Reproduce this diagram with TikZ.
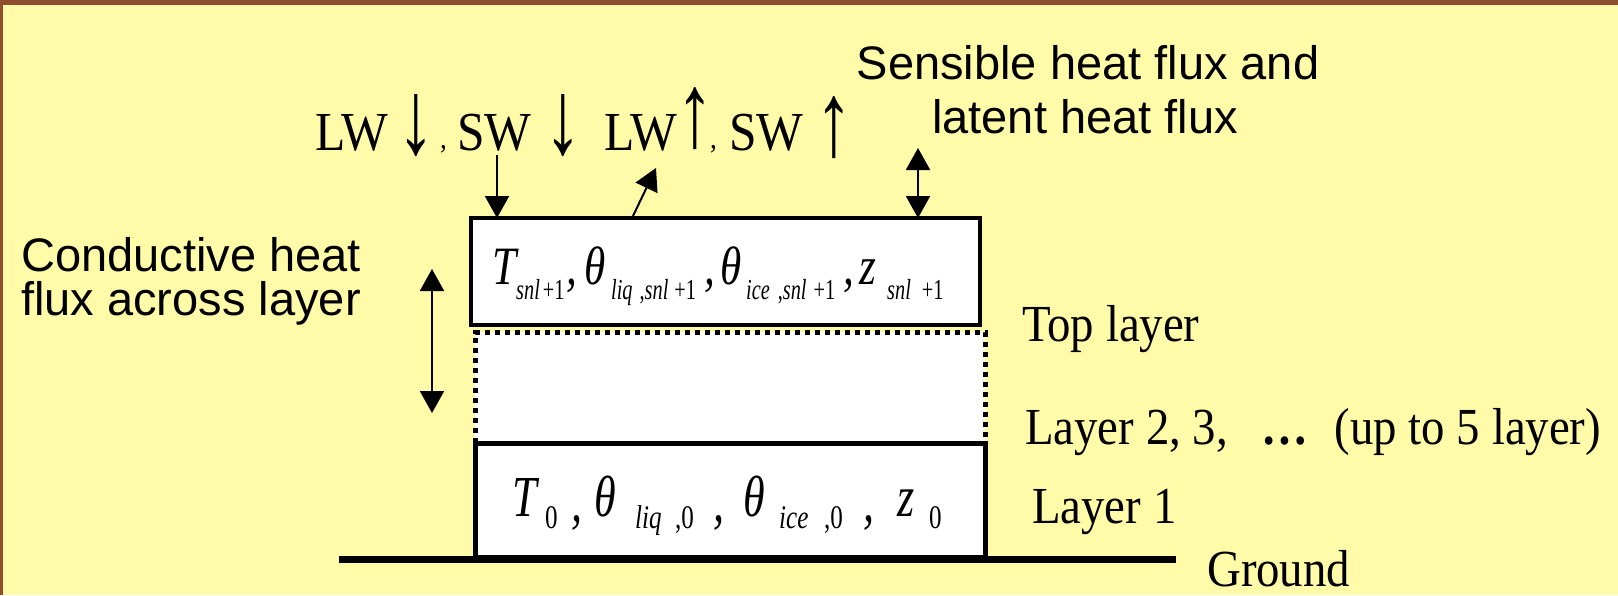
\documentclass[tikz,border=0pt]{standalone}
\usepackage{graphicx}
\usepackage{fontspec}
\setmainfont{Liberation Serif}
\newfontfamily\tnr[FakeStretch=0.9]{Liberation Serif}
\newfontfamily\mth[FakeStretch=0.8]{Liberation Serif}
\newfontfamily\mths[FakeStretch=0.7]{Liberation Serif}
\newfontfamily\mthl[FakeStretch=0.76]{Liberation Serif}
\newfontfamily\arl{Liberation Sans}
\usetikzlibrary{arrows.meta}
\definecolor{slidebg}{RGB}{255,251,168}
\definecolor{woodframe}{RGB}{143,78,45}
\tikzset{
  lbl/.style={inner sep=0, anchor=base west, font=\tnr\fontsize{52}{60}\selectfont},
  radlbl/.style={inner sep=0, anchor=base west, font=\tnr\fontsize{55}{60}\selectfont},
  smallcomma/.style={inner sep=0, anchor=base west, font=\tnr\fontsize{30}{36}\selectfont},
  glyph/.style={inner sep=0, anchor=south, font=\rmfamily\bfseries\fontsize{75}{80}\selectfont},
  sanslbl/.style={inner sep=0, font=\arl\fontsize{47}{54}\selectfont},
  bigm/.style={inner sep=0, anchor=base west, font=\mth\itshape\fontsize{54}{60}\selectfont},
  subm/.style={inner sep=0, anchor=base west, font=\mths\fontsize{29}{36}\selectfont},
  bigl/.style={inner sep=0, anchor=base west, font=\mthl\itshape\fontsize{58}{64}\selectfont},
  subl/.style={inner sep=0, anchor=base west, font=\mthl\fontsize{33}{38}\selectfont},
  layerbox/.style={draw=black, fill=white, inner sep=0, outer sep=0},
  flux/.style={line width=2pt, -{Triangle[length=22pt,width=24pt]}},
  flux2/.style={line width=2pt, {Triangle[length=22pt,width=24pt]}-{Triangle[length=22pt,width=24pt]}},
  dotline/.style={line width=5pt, dash pattern=on 5pt off 5pt},
}
\begin{document}
\begin{tikzpicture}[x=1pt,y=-1pt]
% slide frame and background
\fill[woodframe] (0,0) rectangle (1618,595);
\fill[slidebg] (3,5) rectangle (1618,595);
\useasboundingbox (0,0) rectangle (1618,595);

% intermediate layers (dotted outline)
\fill[white] (475,332) rectangle (985,443);
\draw[dotline] (475.5,443) -- (475.5,332.5) -- (985.5,332.5) -- (985.5,443);

% top layer and layer 1
\node[layerbox, line width=4.5pt, minimum width=509pt, minimum height=107pt] (top) at (725.5,271.5) {};
\node[layerbox, line width=5pt, minimum width=510pt, minimum height=114pt] (bot) at (730,500) {};

% ground
\coordinate (gl) at (339,559.5);
\coordinate (gr) at (1176,559.5);
\draw[line width=7pt] (gl) -- (gr);

% variables of the top layer
\node[bigm] (p1) at (492,284) {T};
\node[subm] (p2) at (516,299) {\textit{snl}\hspace{3pt}+1};
\node[bigm] (p3) at (566,284) {,};
\node[bigm] (p4) at (584,284) {θ};
\node[subm] (p5) at (611,299) {\textit{liq}\hspace{7pt},\textit{snl}\hspace{6pt}+1};
\node[bigm] (p6) at (704,284) {,};
\node[bigm] (p7) at (720,284) {θ};
\node[subm] (p8) at (746,299) {\textit{ice}\hspace{8pt},\textit{snl}\hspace{7pt}+1};
\node[bigm] (p9) at (843,284) {,};
\node[bigm] (p10) at (859,284) {z};
\node[subm] (p11) at (887,299) {\textit{snl}\hspace{11pt}+1};

% variables of layer 1
\node[bigl] (q1) at (512,516) {T};
\node[subl] (q2) at (545,528) {0};
\node[bigl] (q3) at (571,521) {,};
\node[bigl] (q4) at (594,516) {θ};
\node[subl] (q5) at (635,528) {\textit{liq}};
\node[subl] (q6) at (675,528) {,0};
\node[bigl] (q7) at (713,521) {,};
\node[bigl] (q8) at (743,516) {θ};
\node[subl] (q9) at (779,528) {\textit{ice}};
\node[subl] (q10) at (824,528) {,0};
\node[bigl] (q11) at (863,521) {,};
\node[bigl] (q12) at (897,516) {z};
\node[subl] (q13) at (929,528) {0};

% radiation labels
\node[radlbl] (lw1) at (315,150) {LW};
\node[glyph] (a1) at (416,157) {\scalebox{1}[1.4]{↓}};
\node[smallcomma] (c1) at (440,148) {,};
\node[radlbl] (sw1) at (457,150) {SW};
\node[glyph] (a2) at (563,157) {\scalebox{1}[1.4]{↓}};
\node[radlbl] (lw2) at (604,150) {LW};
\node[glyph] (a3) at (695,150) {\scalebox{1}[1.4]{↑}};
\node[smallcomma] (c2) at (710,148) {,};
\node[radlbl] (sw2) at (729,150) {SW};
\node[glyph] (a4) at (834,159) {\scalebox{1}[1.4]{↑}};

% flux arrows
\coordinate (swin) at (497,155);
\draw[flux] (swin) -- (swin |- top.north);
\coordinate (lwfoot) at (633,216);
\coordinate (lwhead) at (656,168);
\draw[flux] (lwfoot) -- (lwhead);
\coordinate (turb) at (918,148);
\draw[flux2] (turb) -- (turb |- top.north);
\coordinate (condt) at (432,269);
\coordinate (condb) at (432,413);
\draw[flux2] (condt) -- (condb);

% sans-serif captions
\node[sanslbl, anchor=base] (sens1) at (1088,79) {Sensible heat flux and};
\node[sanslbl, anchor=base] (sens2) at (1085,133) {latent heat flux};
\node[sanslbl, anchor=base west] (cond1) at (21,271) {Conductive heat};
\node[sanslbl, anchor=base west] (cond2) at (21,315) {flux across layer};

% layer names
\node[lbl] (ltop) at (1022,341) {Top layer};
\node[lbl] (lmid) at (1025,444) {Layer 2, 3,\hspace{34pt}\textbf{…}\hspace{26pt}(up to 5 layer)};
\node[lbl] (l1) at (1032,523) {Layer 1};
\node[lbl] (lg) at (1207,586) {Ground};
\end{tikzpicture}
\end{document}
